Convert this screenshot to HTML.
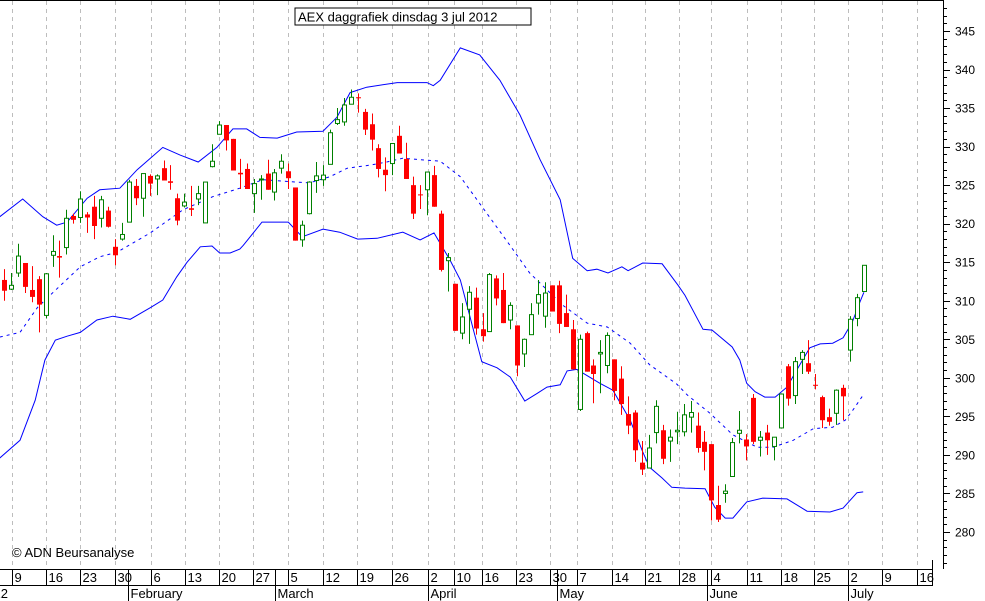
<!DOCTYPE html>
<html><head><meta charset="utf-8"><style>
html,body{margin:0;padding:0;background:#fff;}
svg{display:block;font-family:"Liberation Sans",sans-serif;}
</style></head><body>
<svg id="chart" width="985" height="601" viewBox="0 0 985 601" xmlns="http://www.w3.org/2000/svg">
<rect x="0" y="0" width="985" height="601" fill="#fff"/>
<g id="grid"></g>
<g id="bands"></g>
<g id="candles"></g>
<g id="axes"></g>
<rect x="295" y="8" width="236" height="17" fill="#fff" stroke="#000" stroke-width="1"/>
<text x="298" y="21.5" font-size="13" fill="#000">AEX daggrafiek dinsdag 3 jul 2012</text>
<text x="12" y="557" font-size="13" fill="#000">© ADN Beursanalyse</text>
</svg>
<script>
const opens=[312.7,311.5,313.6,314.9,311.4,312.8,308.1,315.9,315.8,316.9,321.0,320.8,321.2,322.2,320.7,321.7,317.0,318.0,320.2,324.9,323.3,326.2,325.8,327.2,325.5,323.3,322.3,322.0,323.2,320.1,327.4,331.6,332.8,331.0,326.6,327.1,323.9,325.7,326.5,324.1,327.2,326.8,324.7,317.9,321.3,325.6,325.7,327.7,333.0,333.2,335.5,336.4,334.5,332.9,329.8,327.0,327.8,331.4,328.4,325.0,323.8,324.4,326.3,321.3,315.2,312.2,305.8,308.9,310.4,306.3,306.0,312.9,311.4,307.5,306.8,303.1,305.6,309.7,308.0,312.0,312.0,308.4,306.3,295.9,305.8,301.6,303.1,301.6,302.4,299.9,295.3,295.5,289.0,288.3,292.9,293.2,291.8,293.0,293.0,294.9,293.8,291.7,291.4,283.5,285.0,287.2,292.8,292.0,297.4,291.9,292.9,291.1,293.5,301.5,297.7,302.4,301.9,299.1,297.5,294.9,295.4,298.7,303.6,307.7,311.2];
const highs=[314.1,313.6,317.4,314.9,314.5,313.2,313.6,318.5,317.8,321.8,321.3,324.2,321.5,323.6,323.6,322.2,318.0,320.1,325.7,325.8,326.5,326.4,326.4,328.2,327.6,323.9,323.9,324.9,324.9,325.4,330.3,333.3,332.8,331.0,328.4,327.8,325.8,326.3,328.3,327.1,329.0,327.8,324.7,320.4,325.5,328.0,327.6,332.2,335.0,336.3,337.4,336.9,334.9,334.3,330.3,328.6,330.4,332.7,330.5,326.1,325.0,326.7,327.5,321.7,316.2,312.2,309.7,311.9,311.7,308.4,313.6,313.3,313.6,309.8,306.8,305.1,309.7,312.7,312.4,312.0,312.6,310.8,307.5,305.6,306.0,302.4,304.9,305.9,302.4,301.5,297.6,295.8,291.8,292.6,297.1,293.9,293.3,295.6,296.6,297.0,295.5,293.1,291.4,286.0,286.2,292.2,295.7,292.7,297.9,293.1,293.9,292.3,297.9,301.8,302.7,303.6,304.9,300.5,297.7,296.0,298.5,299.1,308.0,310.9,314.6];
const lows=[310.0,311.4,313.1,311.0,309.8,305.9,307.7,314.4,313.0,316.0,320.0,320.1,318.8,318.0,319.5,319.5,314.6,317.8,320.2,322.4,320.9,323.6,323.7,325.6,324.4,319.8,322.1,321.0,322.4,320.1,327.3,331.6,329.5,326.9,324.5,324.5,321.4,323.1,324.4,323.0,326.5,324.5,317.8,317.0,321.2,324.0,324.9,327.7,332.8,332.7,335.5,334.4,331.5,329.5,326.0,324.2,326.3,329.1,325.8,320.6,321.9,321.1,322.2,313.8,311.2,306.1,305.0,304.4,305.6,304.7,306.0,309.4,307.1,306.3,300.2,301.4,305.6,308.2,306.5,308.6,305.8,306.6,301.1,295.7,300.8,296.7,298.0,300.6,297.1,295.2,292.7,289.1,287.4,288.3,291.5,288.8,289.1,291.4,292.4,292.9,290.3,288.0,281.5,281.3,283.8,287.2,291.5,289.3,291.4,289.8,290.0,289.3,293.5,296.4,296.6,300.5,300.5,298.5,293.5,293.8,293.9,294.5,302.1,306.7,311.2];
const closes=[311.3,312.0,315.8,311.8,310.5,309.5,313.5,316.4,315.6,320.7,320.5,323.2,320.8,319.7,323.1,319.6,315.9,318.6,325.4,323.3,326.5,325.2,326.2,325.6,325.3,320.4,322.8,321.8,323.9,325.4,328.1,332.8,330.8,326.9,326.4,324.5,325.2,325.8,324.4,326.6,328.1,325.9,317.8,319.8,325.4,326.2,326.3,331.8,333.5,335.4,336.4,336.3,332.2,330.9,327.1,326.3,330.4,329.1,325.8,321.3,323.7,326.7,322.2,314.0,315.6,306.1,307.9,311.1,306.4,305.4,313.4,310.3,307.1,309.4,301.6,305.0,308.2,310.8,311.0,308.6,307.0,306.6,301.1,305.0,300.8,300.5,303.3,305.5,298.3,296.6,293.8,290.6,288.1,290.9,296.3,289.5,292.3,293.2,295.2,295.5,290.9,290.4,284.1,281.6,285.3,291.6,293.2,291.1,291.7,292.3,291.9,292.3,297.9,297.3,302.1,303.3,300.8,299.0,294.5,294.3,298.4,297.6,307.6,310.4,314.6];

const upperIdx=[-0.6,2.7,5.6,7.6,9.1,12.0,13.8,16.7,19.2,22.9,25.4,28.0,30.7,33.0,35.0,36.9,39.4,42.2,46.0,48.0,49.9,52.3,56.7,61.0,61.9,62.9,65.8,68.6,71.5,74.4,77.3,80.2,82.0,84.1,85.5,87.1,89.1,90.0,92.1,94.9,97.2,98.2,100.8,102.1,105.0,106.1,107.1,108.3,109.7,111.2,112.9,114.3,116.2,117.7,119.5,121.0,122.3,123.4,124.0];
const upperVal=[320.9,323.2,320.9,319.8,320.2,323.3,324.4,324.6,327.0,329.9,328.9,328.0,329.9,332.3,332.3,331.2,331.1,331.9,332.0,333.8,337.0,337.7,338.3,338.3,337.9,338.6,342.8,341.9,338.6,334.1,328.3,323.1,315.5,313.9,314.1,313.6,314.4,313.9,314.9,314.8,312.0,310.7,306.3,306.2,304.0,302.3,299.3,298.2,297.5,297.5,298.8,301.0,303.9,304.4,304.5,305.2,307.2,309.8,311.1];
const midIdx=[-0.6,2.3,4.8,7.1,11.0,13.8,16.3,21.1,25.8,30.1,34.0,37.3,42.2,44.1,47.0,49.5,52.8,55.2,57.5,60.0,62.9,65.8,72.7,75.8,80.6,84.1,87.0,90.3,93.1,97.0,98.5,101.8,105.1,108.6,110.9,113.8,116.7,119.5,121.3,122.4,124.0];
const midVal=[305.3,305.9,309.1,311.1,314.4,315.7,316.3,318.8,321.8,323.5,324.6,325.7,325.4,325.3,326.1,327.2,327.6,328.0,328.5,328.3,328.1,326.1,317.5,313.6,309.4,307.1,306.6,304.5,301.7,299.2,297.8,295.4,292.6,291.0,291.0,291.9,293.4,293.6,294.5,295.8,297.9];
const lowerIdx=[-0.6,2.3,4.5,5.9,7.4,9.1,11.0,13.4,15.7,18.2,21.1,22.9,24.9,26.4,28.3,30.0,31.1,32.6,34.0,34.5,37.2,41.0,43.0,46.0,48.4,51.0,53.8,57.5,60.0,62.0,64.3,65.8,68.9,71.1,73.0,75.1,76.9,78.3,80.2,81.2,82.6,85.9,87.8,90.3,92.1,93.1,94.9,96.3,98.2,101.1,102.5,104.0,105.1,107.1,109.4,112.9,115.8,119.1,121.0,123.0,123.9];
const lowerVal=[289.6,291.9,297.1,302.3,304.9,305.4,305.9,307.5,308.0,307.6,309.1,310.1,313.1,315.0,317.0,317.1,316.2,316.2,316.7,317.2,320.2,320.2,318.3,319.3,318.9,318.0,318.1,318.9,317.9,318.8,315.3,312.7,302.1,301.3,300.1,297.0,298.0,298.8,299.1,300.9,301.1,299.3,298.4,294.5,290.4,288.4,287.0,285.8,285.7,285.6,283.2,281.8,281.8,283.9,284.4,284.3,282.7,282.6,283.1,285.1,285.2];

const yTicks=[280,285,290,295,300,305,310,315,320,325,330,335,340,345];
const weekIdx=[1.11,6.01,10.96,16.0,21.15,26.1,31.0,35.95,41.0,45.96,50.86,55.9,61.1,64.9,68.9,73.8,78.8,82.6,87.7,92.4,97.4,102.0,107.1,112.0,116.8,121.7,126.6,131.6];
const weekLabels=["9","16","23","30","6","13","20","27","5","12","19","26","2","10","16","23","30","7","14","21","28","4","11","18","25","2","9","16"];
const monthIdx=[17.9,39.1,61.1,79.7,101.3,121.7];
const monthLabels=["February","March","April","May","June","July"];

const NS="http://www.w3.org/2000/svg";
const X0=4, DX=6.935, Y0=532, KY=7.708, VMIN=280;
const PLOT_R=943, PLOT_B=569;
function xs(i){return X0+DX*i;}
function ys(v){return Y0-(v-VMIN)*KY;}
function mk(tag,attrs,parent){const e=document.createElementNS(NS,tag);for(const k in attrs)e.setAttribute(k,attrs[k]);parent.appendChild(e);return e;}

const grid=document.getElementById('grid');
weekIdx.forEach((w,i)=>{
  const x=Math.round(xs(w))+0.5;
  const l=mk('line',{x1:x,y1:1,x2:x,y2:PLOT_B,stroke:'#bdbdbd','stroke-width':1,'stroke-dasharray':'4,4'},grid);
  
  
});

const bands=document.getElementById('bands');
function band(idx,val,name,dash){
  const pts=idx.map((d,i)=>xs(d).toFixed(1)+','+ys(val[i]).toFixed(1)).join(' ');
  const p=mk('polyline',{points:pts,fill:'none',stroke:'#0000ff','stroke-width':1},bands);
  if(dash)p.setAttribute('stroke-dasharray','3,4');
  
  
}
band(upperIdx,upperVal,'upper-band',false);
band(midIdx,midVal,'middle-band',true);
band(lowerIdx,lowerVal,'lower-band',false);

const cg=document.getElementById('candles');
opens.forEach((o,i)=>{
  const c=closes[i], up=c>=o;
  const col=up?'#008000':'#ff0000';
  const x=Math.round(xs(i))+0.5;
  const g=mk('g',{},cg);
  
  
  mk('line',{x1:x,y1:ys(highs[i]),x2:x,y2:ys(lows[i]),stroke:col,'stroke-width':1},g);
  const top=ys(Math.max(o,c)), bot=ys(Math.min(o,c));
  const h=Math.max(bot-top,1);
  if(up) mk('rect',{x:x-2,y:top,width:4,height:h,fill:'#fff',stroke:col,'stroke-width':1},g);
  else mk('rect',{x:x-2.5,y:top,width:5,height:h,fill:col},g);
});

const ax=document.getElementById('axes');
function ln(x1,y1,x2,y2,name){const l=mk('line',{x1,y1,x2,y2,stroke:'#000','stroke-width':1},ax);return l;}
ln(0,0.5,PLOT_R,0.5,'top-border');
ln(PLOT_R+0.5,0,PLOT_R+0.5,PLOT_B,'y-axis-line');
ln(0,PLOT_B+0.5,933,PLOT_B+0.5,'x-axis-line');
ln(0,585.5,933,585.5,'month-row-line');
ln(932.5,560,932.5,585,'x-axis-end');
for(let v=Math.ceil(ys(349)>0?276:276);v<=349;v++){
  const y=Math.round(ys(v))+0.5;
  if(y<1||y>PLOT_B)continue;
  ln(PLOT_R,y,PLOT_R+(v%5===0?7:4),y,'y-tick');
}
yTicks.forEach(v=>{
  const t=mk('text',{x:955,y:ys(v)+4.5,'font-size':12,fill:'#000'},ax);
  t.textContent=String(v);
  
  
});
weekIdx.forEach((w,i)=>{
  const x=Math.round(xs(w))+0.5;
  ln(x,PLOT_B,x,585,'x-week-tick');
  const t=mk('text',{x:x+2,y:582,'font-size':13,fill:'#000'},ax);
  t.textContent=weekLabels[i];
  
  
});
monthIdx.forEach((m,i)=>{
  const x=Math.round(xs(m))+0.5;
  ln(x,PLOT_B,x,601,'month-separator');
  const t=mk('text',{x:x+2,y:598,'font-size':13,fill:'#000'},ax);
  t.textContent=monthLabels[i];
  
  
});
const jan=mk('text',{x:8,y:598,'font-size':13,fill:'#000','text-anchor':'end'},ax);
jan.textContent='January 2012';


</script>
</body></html>
